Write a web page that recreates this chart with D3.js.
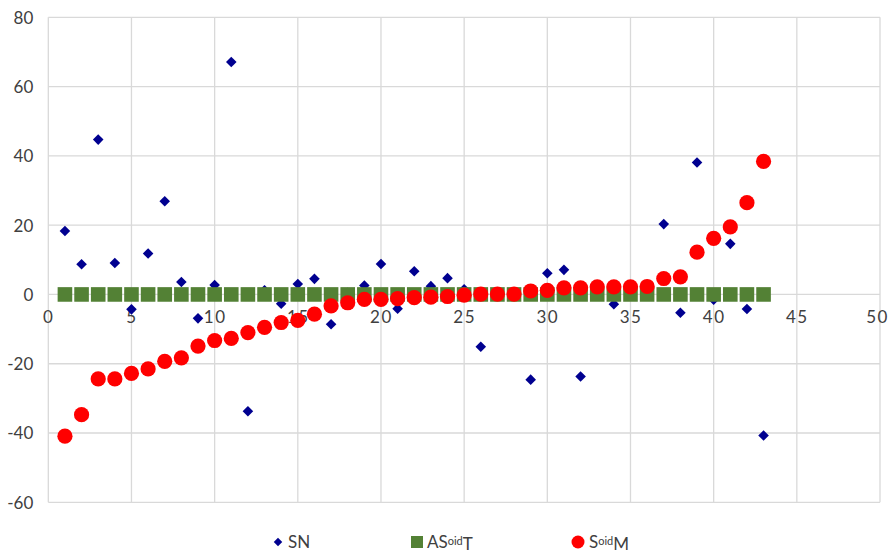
<!DOCTYPE html>
<html><head><meta charset="utf-8">
<script src="https://cdn.jsdelivr.net/npm/d3@7"></script>
<style>
html,body{margin:0;padding:0;background:#fff;}
svg text{font-family:Lato,"Open Sans",sans-serif;fill:#404040;}
</style></head>
<body><svg id="c" width="890" height="553"></svg>
<script>
const xIndex = d3.range(1, 44);
const snValues = [18.3, 8.7, 44.7, 9.1, -4.3, 11.8, 26.9, 3.6, -6.9, 2.7, 67.1, -33.7, 1.2, -2.7, 3.0, 4.5, -8.6, 0.5, 2.6, 8.8, -4.1, 6.7, 2.4, 4.7, 1.5, -15.1, 0.2, 0.1, -24.6, 6.1, 7.1, -23.7, 0.3, -2.8, 0.5, 0.8, 20.3, -5.3, 38.1, -1.5, 14.6, -4.2, -40.7];
const asoidtValues = xIndex.map(() => 0);
const soidmValues = [-40.9, -34.7, -24.4, -24.4, -22.8, -21.5, -19.3, -18.3, -14.9, -13.3, -12.7, -11.0, -9.5, -8.1, -7.5, -5.7, -3.3, -2.4, -1.4, -1.4, -1.2, -0.9, -0.8, -0.6, -0.2, 0.1, 0.1, 0.1, 1.0, 1.2, 1.9, 1.9, 2.2, 2.2, 2.2, 2.3, 4.6, 5.1, 12.2, 16.2, 19.5, 26.5, 38.4];
const xTicks = [0, 5, 10, 15, 20, 25, 30, 35, 40, 45, 50];
const yTicks = [-60, -40, -20, 0, 20, 40, 60, 80];

const svg = d3.select("#c");
const x = d3.scaleLinear().domain([0, 50]).range([48.3, 880]);
const y = d3.scaleLinear().domain([-60, 80]).range([502.3, 17.3]);
const grid = "#d9d9d9";

// gridlines
svg.append("g").selectAll("line").data(yTicks).join("line")
  .attr("x1", x(0)).attr("x2", x(50)).attr("y1", d => y(d)).attr("y2", d => y(d))
  .attr("stroke", grid).attr("stroke-width", 1.3);
svg.append("g").selectAll("line").data(xTicks).join("line")
  .attr("y1", y(-60)).attr("y2", y(80)).attr("x1", d => x(d)).attr("x2", d => x(d))
  .attr("stroke", grid).attr("stroke-width", 1.3);

// y axis labels
const yAxis = d3.axisLeft(y).tickValues(yTicks).tickFormat(d => String(d)).tickSize(0).tickPadding(0);
const ya = svg.append("g").attr("transform", `translate(${x(0) - 15},0)`).call(yAxis);
ya.select(".domain").remove();
ya.selectAll("text").style("font-size", "17px").attr("fill", "#404040").attr("dy", "0.35em");

// x axis labels along y=0
const xAxis = d3.axisBottom(x).tickValues(xTicks).tickFormat(d => String(d)).tickSize(0).tickPadding(0);
const xa = svg.append("g").attr("transform", `translate(0,${y(0) + 23})`).call(xAxis);
xa.select(".domain").remove();
xa.selectAll("text").style("font-size", "17px").style("letter-spacing", "1.5px").attr("fill", "#404040").attr("dy", "0.35em").attr("y", 0)
  .attr("dx", d => d === 50 ? -3 : 0);

// SN diamonds
svg.append("g").selectAll("path").data(xIndex).join("path")
  .attr("d", d3.symbol().type(d3.symbolSquare).size(56))
  .attr("transform", (d, i) => `translate(${x(d)},${y(snValues[i])}) rotate(45)`)
  .attr("fill", "#000090");

// ASoidT squares
svg.append("g").selectAll("rect").data(xIndex).join("rect")
  .attr("x", d => x(d) - 7.3).attr("y", (d, i) => y(asoidtValues[i]) - 7.3)
  .attr("width", 14.6).attr("height", 14.6)
  .attr("fill", "#538135");

// SoidM circles
svg.append("g").selectAll("circle").data(xIndex).join("circle")
  .attr("cx", d => x(d)).attr("cy", (d, i) => y(soidmValues[i]))
  .attr("r", 7.6).attr("fill", "#ff0000");

// legend
const ly = 542;
const lg = svg.append("g");
lg.append("path").attr("d", d3.symbol().type(d3.symbolSquare).size(36))
  .attr("transform", `translate(278,${ly}) rotate(45)`).attr("fill", "#000090");
lg.append("text").attr("x", 288).attr("y", ly).attr("dy", "0.35em").style("font-size", "17px").text("SN");
lg.append("rect").attr("x", 411).attr("y", ly - 6).attr("width", 12).attr("height", 12).attr("fill", "#538135");
const t2 = lg.append("text").attr("x", 427).attr("y", ly).attr("dy", "0.35em").style("font-size", "17px");
t2.append("tspan").text("AS");
t2.append("tspan").attr("dy", "-0.3em").style("font-size", "11px").text("oid");
t2.append("tspan").attr("dy", "0.3em").text("T");
lg.append("circle").attr("cx", 578).attr("cy", ly).attr("r", 6.5).attr("fill", "#ff0000");
const t3 = lg.append("text").attr("x", 589).attr("y", ly).attr("dy", "0.35em").style("font-size", "17px");
t3.append("tspan").text("S");
t3.append("tspan").attr("dy", "-0.3em").style("font-size", "11px").text("oid");
t3.append("tspan").attr("dy", "0.3em").text("M");
</script>
</body></html>
